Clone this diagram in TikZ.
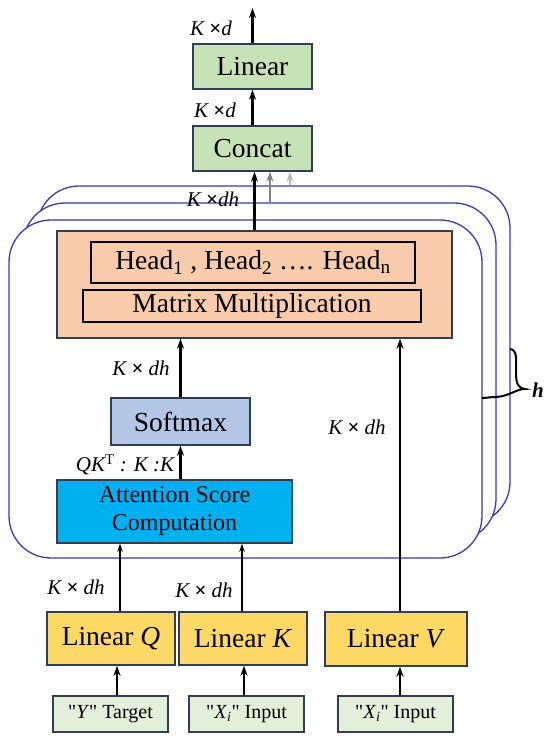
\documentclass[tikz,border=0pt]{standalone}
\usepackage{fontspec}
\setmainfont{Liberation Serif}
\usetikzlibrary{arrows.meta}
\definecolor{boxline}{RGB}{47,62,82}
\definecolor{stackblue}{RGB}{58,58,168}
\definecolor{greenbox}{RGB}{200,226,184}
\definecolor{peach}{RGB}{248,203,173}
\definecolor{softblue}{RGB}{180,199,231}
\definecolor{attblue}{RGB}{0,176,240}
\definecolor{gold}{RGB}{255,217,102}
\definecolor{inputgreen}{RGB}{226,240,217}
\begin{document}
\begin{tikzpicture}[x=1pt, y=-1pt, >={Stealth[length=10pt,width=7pt]},
    box/.style={draw=boxline, line width=1.5pt, inner sep=0pt, font=\fontsize{27.5}{30}\selectfont},
    inbox/.style={draw=black, line width=1.4pt, inner sep=0pt, font=\fontsize{27.5}{30}\selectfont},
    inputbox/.style={draw=boxline, line width=1.2pt, fill=inputgreen, inner sep=0pt,
        minimum width=115pt, minimum height=36pt, font=\fontsize{20}{22}\selectfont},
    stack/.style={draw=stackblue, line width=1.3pt, fill=white, rounded corners=42pt,
        minimum width=473pt, minimum height=338pt},
    lab/.style={font=\fontsize{21}{23}\selectfont\itshape},
    arr/.style={->, line width=2.4pt},
    thinarr/.style={-{Stealth[length=8pt,width=5.5pt]}, line width=1.1pt}]
    \useasboundingbox (0,0) rectangle (550,740);

    % 1. stacked heads (back to front)
    \node[stack] (stackC) at (273.5,355) {};
    \node[stack] (stackB) at (259.5,372) {};
    \node[stack] (stackA) at (245.5,389) {};

    % 2. boxes
    \node[box, fill=greenbox, minimum width=119pt, minimum height=45pt] (linear) at (252.5,66.5) {Linear};
    \node[box, fill=greenbox, minimum width=119pt, minimum height=45pt] (concat) at (252.5,148.5) {Concat};
    \node[box, fill=peach, minimum width=395pt, minimum height=107pt] (heads) at (254.5,284.5) {};
    \node[inbox, minimum width=324pt, minimum height=41pt] (headlist) at (253,262.5)
        {Head\textsubscript{1} , Head\textsubscript{2} …. Head\textsubscript{n}};
    \node[inbox, minimum width=338pt, minimum height=32pt] (matmul) at (252,306) {Matrix Multiplication};
    \node[box, fill=softblue, minimum width=139pt, minimum height=47pt] (softmax) at (180.5,421.5) {Softmax};
    \node[box, fill=attblue, minimum width=235pt, minimum height=63pt, align=center,
        font=\fontsize{24}{28}\selectfont] (att) at (174.5,511.5) {Attention Score\\Computation};
    \node[box, fill=gold, minimum width=128pt, minimum height=53pt] (linq) at (111,638.5) {Linear \textit{Q}};
    \node[box, fill=gold, minimum width=128pt, minimum height=53pt] (link) at (243,638.5) {Linear \textit{K}};
    \node[box, fill=gold, minimum width=142pt, minimum height=54pt] (linv) at (396,639) {Linear \textit{V}};
    \node[inputbox] (yin) at (110.5,714) {\textquotedbl\textit{Y}\textquotedbl{} Target};
    \node[inputbox] (xin) at (246.5,714) {\textquotedbl\textit{X}\textsubscript{\textit{i}}\textquotedbl{} Input};
    \node[inputbox] (xinv) at (395.5,714) {\textquotedbl\textit{X}\textsubscript{\textit{i}}\textquotedbl{} Input};

    % 3. arrows
    \coordinate (out) at (252.5,8);
    \coordinate (g1) at (270,0);
    \coordinate (g2) at (290,0);
    \draw[arr] (linear.north) -- (out);
    \draw[arr] (concat.north) -- (linear.south);
    \draw[arr] (heads.north) -- (heads.north |- concat.south);
    \draw[->, line width=1.6pt, gray] (stackB.north -| g1) -- (concat.south -| g1);
    \draw[->, line width=1.6pt, gray!55] (stackC.north -| g2) -- (concat.south -| g2);
    \draw[arr] (softmax.north) -- (softmax.north |- heads.south);
    \draw[arr] (att.north -| softmax.south) -- (softmax.south);
    \draw[arr] ([xshift=4pt]linv.north) -- ([xshift=4pt]linv.north |- heads.south);
    \draw[thinarr] ([xshift=9pt]linq.north) -- ([xshift=9pt]linq.north |- att.south);
    \draw[thinarr] ([xshift=-1pt]link.north) -- ([xshift=-1pt]link.north |- att.south);
    \draw[arr] ([xshift=6.5pt]yin.north) -- ([xshift=6.5pt]yin.north |- linq.south);
    \draw[arr] ([xshift=-2.5pt]xin.north) -- ([xshift=-2.5pt]xin.north |- link.south);
    \draw[arr] ([xshift=4.5pt]xinv.north) -- ([xshift=4.5pt]xinv.north |- linv.south);

    % 4. labels
    \node[lab] (l1) at (211,28) {K {\bfseries\upshape ×}d};
    \node[lab] (l2) at (215,110) {K {\bfseries\upshape ×}d};
    \node[lab] (l3) at (213,199) {K {\bfseries\upshape ×}dh};
    \node[lab] (l4) at (141,368) {K {\bfseries\upshape ×} dh};
    \node[lab] (l5) at (125,465) {QK\textsuperscript{\upshape T} : K :K};
    \node[lab] (l6) at (357,427) {K {\bfseries\upshape ×} dh};
    \node[lab] (l7) at (76,587) {K {\bfseries\upshape ×} dh};
    \node[lab] (l8) at (204,590) {K {\bfseries\upshape ×} dh};

    % 5. brace for the h heads
    \draw[line width=2pt] (510,349) .. controls (518,350) and (516,362) .. (516,372)
        .. controls (516,384) and (518,388) .. (525,389)
        .. controls (516,389) and (510,396) .. (496,397)
        .. controls (490,397) and (486,398) .. (482,398);
    \node[font=\fontsize{21}{23}\selectfont\bfseries\itshape] (hlab) at (538,390) {h};
\end{tikzpicture}
\end{document}
